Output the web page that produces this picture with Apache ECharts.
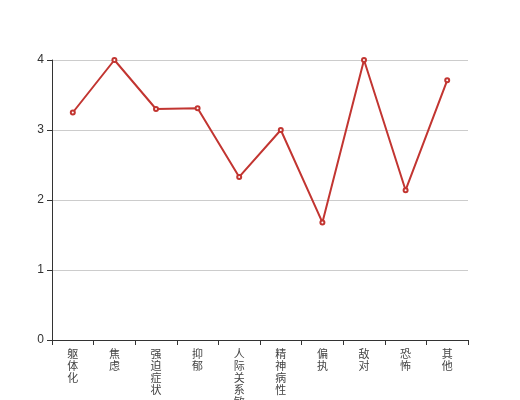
<!DOCTYPE html>
<html>
<head>
<meta charset="utf-8">
<script src="https://cdn.jsdelivr.net/npm/echarts@6/dist/echarts.min.js"></script>
<style>
  html, body { margin: 0; padding: 0; background: #fff; }
  #chart { width: 520px; height: 400px; }
</style>
</head>
<body>
<div id="chart"></div>
<script>
const categories = ["躯体化", "焦虑", "强迫症状", "抑郁", "人际关系敏感", "精神病性", "偏执", "敌对", "恐怖", "其他"];
const scores = [3.25, 4.0, 3.3, 3.31, 2.33, 3.0, 1.68, 4.0, 2.14, 3.71];
const yTicks = [0, 1, 2, 3, 4];

const chart = echarts.init(document.getElementById("chart"));
const option = {
  animation: false,
  grid: {
    left: 52,
    right: 52,
    top: 60,
    bottom: 60,
    containLabel: false,
    outerBoundsMode: "none",
  },
  xAxis: {
    type: "category",
    data: categories,
    axisLine: { lineStyle: { color: "#333" } },
    axisTick: { show: true, alignWithLabel: false, lineStyle: { color: "#333" } },
    axisLabel: {
      interval: 0,
      color: "#444",
      fontSize: 11,
      lineHeight: 12,
      margin: 8,
      fontFamily: "Noto Sans CJK SC",
      formatter: (v) => v.split("").join("\n"),
    },
  },
  yAxis: {
    type: "value",
    min: yTicks[0],
    max: yTicks[yTicks.length - 1],
    interval: 1,
    axisLine: { show: true, lineStyle: { color: "#333" } },
    axisTick: { show: true, lineStyle: { color: "#333" } },
    axisLabel: { color: "#333", fontSize: 12 },
    splitLine: { lineStyle: { color: "#ccc" } },
  },
  series: [
    {
      type: "line",
      data: scores,
      symbol: "emptyCircle",
      symbolSize: 4,
      lineStyle: { color: "#c23531", width: 2 },
      itemStyle: { color: "#c23531" },
    },
  ],
};
chart.setOption(option);
window.addEventListener("resize", chart.resize);
</script>
</body>
</html>
